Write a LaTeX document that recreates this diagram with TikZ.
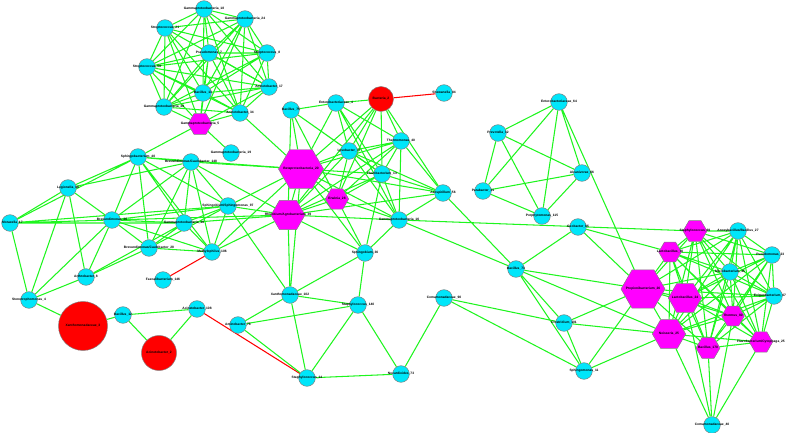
\documentclass[tikz,border=0pt]{standalone}
\usepackage{fontspec}
\setmainfont{Liberation Sans}
\usetikzlibrary{shapes.geometric,backgrounds}
\definecolor{nodecyan}{RGB}{0,230,250}
\definecolor{nodemag}{RGB}{255,0,255}
\definecolor{edgegreen}{RGB}{30,245,30}
\begin{document}
\begin{tikzpicture}[x=0.03cm,y=-0.03cm,
  cy/.style={circle,draw=gray,fill=nodecyan,minimum size=0.5cm,inner sep=0pt},
  rd/.style={circle,draw=gray,fill=red,inner sep=0pt},
  hx/.style={regular polygon,regular polygon sides=6,draw=gray,fill=nodemag,inner sep=0pt},
  lbl/.style={font=\fontsize{2.8}{3}\selectfont\bfseries,text=black,inner sep=0pt},
  ed/.style={draw=edgegreen,line width=0.9pt},
  rl/.style={draw=red,line width=0.9pt}]
\useasboundingbox (0,0) rectangle (787,433);
% upper left group
\node[cy,label={[lbl]center:Gammaproteobacteria\_18}] (g18) at (204,9) {};
\node[cy,label={[lbl]center:Gammaproteobacteria\_24}] (g24) at (245,19) {};
\node[cy,label={[lbl]center:Streptococcus\_21}] (st21) at (165,28) {};
\node[cy,label={[lbl]center:Pseudomonas\_7}] (ps7) at (209,53) {};
\node[cy,label={[lbl]center:Streptococcus\_8}] (st8) at (267,53) {};
\node[cy,label={[lbl]center:Streptococcus\_58}] (st58) at (147,67) {};
\node[cy,label={[lbl]center:Acinetobacter\_17}] (ac17) at (269,87) {};
\node[cy,label={[lbl]center:Bacillus\_13}] (ba13) at (203,93) {};
\node[cy,label={[lbl]center:Gammaproteobacteria\_38}] (g38) at (164,107) {};
\node[cy,label={[lbl]center:Acinetobacter\_34}] (ac34) at (240,113) {};
\node[hx,minimum size=0.72cm,label={[lbl]center:Gammaproteobacteria\_5}] (g5) at (200,124) {};
% left group
\node[cy,label={[lbl]center:Gammaproteobacteria\_19}] (g19) at (231,153) {};
\node[cy,label={[lbl]center:Sphingobacterium\_40}] (sb40) at (138,157) {};
\node[cy,label={[lbl]center:Brevundimonas/Caulobacter\_148}] (bc148) at (191,162) {};
\node[cy,label={[lbl]center:Legionella\_48}] (lg48) at (68,188) {};
\node[cy,label={[lbl]center:Sphingobium/Sphingomonas\_97}] (sm97) at (228,206) {};
\node[cy,label={[lbl,xshift=2pt]center:Moraxella\_17}] (mx17) at (10,223) {};
\node[cy,label={[lbl]center:Brevundimonas\_36}] (bv36) at (112,220) {};
\node[cy,label={[lbl]center:Gammaproteobacteria\_10}] (g10) at (184,223) {};
\node[cy,label={[lbl]center:Brevundimonas/Caulobacter\_28}] (bc28) at (149,248) {};
\node[cy,label={[lbl]center:Methylophilus\_106}] (mt106) at (212,252) {};
\node[cy,label={[lbl]center:Arthrobacter\_8}] (ar8) at (86,277) {};
\node[cy,label={[lbl]center:Faecalibacterium\_146}] (fb146) at (163,280) {};
\node[cy,label={[lbl]center:Stenotrophomonas\_4}] (sn4) at (29,300) {};
\node[rd,minimum size=1.47cm,label={[lbl]center:Xanthomonadaceae\_3}] (xa3) at (83,326) {};
\node[cy,label={[lbl]center:Bacillus\_12}] (ba12) at (123,315) {};
\node[rd,minimum size=1.05cm,label={[lbl]center:Acinetobacter\_2}] (ac2) at (159,353) {};
\node[cy,label={[lbl]center:Acinetobacter\_108}] (ac108) at (197,309) {};
\node[cy,label={[lbl]center:Aminobacter\_78}] (am78) at (238,325) {};
% middle group
\node[cy,label={[lbl]center:Bacillus\_75}] (ba75) at (291,110) {};
\node[cy,label={[lbl]center:Enterobacteriaceae\_4}] (en4) at (336,103) {};
\node[rd,minimum size=0.75cm,label={[lbl]center:Bacteria\_2}] (bt2) at (381,99) {};
\node[cy,label={[lbl]center:Shewanella\_84}] (sw84) at (444,93) {};
\node[cy,label={[lbl]center:Lysobacter\_77}] (ly77) at (349,151) {};
\node[cy,label={[lbl]center:Thermomonas\_40}] (th40) at (401,141) {};
\node[cy,label={[lbl]center:Flavobacterium\_13}] (fl13) at (382,174) {};
\node[hx,minimum size=1.35cm,label={[lbl]center:Betaproteobacteria\_20}] (be20) at (301,169) {};
\node[hx,minimum size=1.02cm,label={[lbl]center:Rhizobium/Agrobacterium\_39}] (rh39) at (288,215) {};
\node[hx,minimum size=0.7cm,label={[lbl]center:Erwinia\_28}] (er28) at (337,199) {};
\node[cy,label={[lbl]center:Azospirillum\_56}] (az56) at (443,193) {};
\node[cy,label={[lbl]center:Gammaproteobacteria\_16}] (g16) at (399,220) {};
\node[cy,label={[lbl]center:Sphingobium\_36}] (sp36) at (365,253) {};
% lower middle group
\node[cy,label={[lbl]center:Xanthomonadaceae\_102}] (xa102) at (290,295) {};
\node[cy,label={[lbl]center:Staphylococcus\_140}] (sa140) at (358,305) {};
\node[cy,label={[lbl]center:Staphylococcus\_14}] (sa14) at (307,378) {};
\node[cy,label={[lbl]center:Nocardioides\_73}] (nc73) at (401,374) {};
\node[cy,label={[lbl]center:Comamonadaceae\_90}] (cm90) at (444,298) {};
% right middle group
\node[cy,label={[lbl]center:Enterobacteriaceae\_64}] (en64) at (559,102) {};
\node[cy,label={[lbl]center:Prevotella\_32}] (pv32) at (498,133) {};
\node[cy,label={[lbl]center:Alcanivorax\_66}] (al66) at (582,173) {};
\node[cy,label={[lbl]center:Parabacter\_31}] (pb31) at (483,191) {};
\node[cy,label={[lbl]center:Porphyromonas\_115}] (pp115) at (542,216) {};
\node[cy,label={[lbl]center:Geobacter\_85}] (ge85) at (578,227) {};
\node[cy,label={[lbl]center:Bacillus\_73}] (ba73) at (516,269) {};
\node[cy,label={[lbl]center:Clostridium\_101}] (cl101) at (564,323) {};
\node[cy,label={[lbl]center:Sphingomonas\_11}] (sm11) at (584,371) {};
\node[hx,minimum size=1.32cm,label={[lbl]center:Propionibacterium\_26}] (pr26) at (643,289) {};
% right group
\node[hx,minimum size=0.72cm,label={[lbl]center:Staphylococcus\_69}] (sa69) at (695,231) {};
\node[cy,label={[lbl]center:Anoxybacillus/Bacillus\_27}] (an27) at (738,231) {};
\node[hx,minimum size=0.68cm,label={[lbl]center:Lactobacillus\_76}] (lb76) at (670,252) {};
\node[cy,label={[lbl,xshift=-1.5pt]center:Pseudomonas\_23}] (ps23) at (772,255) {};
\node[cy,label={[lbl]center:Microbacterium\_45}] (mb45) at (730,272) {};
\node[hx,minimum size=1.0cm,label={[lbl]center:Lactobacillus\_24}] (lb24) at (685,298) {};
\node[cy,label={[lbl,xshift=-3.5pt]center:Exiguobacterium\_67}] (ex67) at (774,296) {};
\node[hx,minimum size=0.68cm,label={[lbl]center:Thermus\_80}] (tm80) at (733,316) {};
\node[hx,minimum size=1.0cm,label={[lbl]center:Neisseria\_25}] (ne25) at (669,334) {};
\node[hx,minimum size=0.7cm,label={[lbl]center:Flavobacterium/Cytophaga\_25}] (fc25) at (761,342) {};
\node[hx,minimum size=0.72cm,label={[lbl]center:Bacillus\_170}] (ba170) at (708,348) {};
\node[cy,label={[lbl]center:Comamonadaceae\_40}] (cm40) at (712,425) {};
\begin{scope}[on background layer]
% upper left group
\draw[ed] (g18)--(g24) (g18)--(st21) (g18)--(ps7) (g18)--(st8) (g18)--(st58) (g18)--(ac17) (g18)--(ba13) (g18)--(g38) (g18)--(ac34);
\draw[ed] (g24)--(st21) (g24)--(ps7) (g24)--(st8) (g24)--(st58) (g24)--(ac17) (g24)--(ba13) (g24)--(g38) (g24)--(ac34) (g24)--(g5);
\draw[ed] (st21)--(ps7) (st21)--(st8) (st21)--(st58) (st21)--(ac17) (st21)--(ba13) (st21)--(g38) (st21)--(ac34) (st21)--(g5);
\draw[ed] (ps7)--(st8) (ps7)--(st58) (ps7)--(ac17) (ps7)--(ba13) (ps7)--(g38) (ps7)--(ac34) (ps7)--(g5);
\draw[ed] (st8)--(st58) (st8)--(ac17) (st8)--(ba13) (st8)--(g38) (st8)--(ac34);
\draw[ed] (st58)--(ac17) (st58)--(ba13) (st58)--(g38) (st58)--(ac34) (st58)--(g5);
\draw[ed] (ac17)--(ba13) (ac17)--(g38) (ac17)--(ac34) (ac17)--(g5);
\draw[ed] (ba13)--(g38) (ba13)--(ac34) (ba13)--(g5);
\draw[ed] (g38)--(ac34) (g38)--(g5) (ac34)--(g5);
\draw[ed] (g5)--(sb40) (g5)--(g19) (ac34)--(be20);
% left group
\draw[ed] (sb40)--(lg48) (sb40)--(mx17) (sb40)--(bc148) (sb40)--(bv36) (sb40)--(g10) (sb40)--(bc28) (sb40)--(mt106) (sb40)--(sm97) (sb40)--(be20);
\draw[ed] (bc148)--(lg48) (bc148)--(bv36) (bc148)--(bc28) (bc148)--(mt106) (bc148)--(sm97) (bc148)--(be20) (bc148)--(rh39) (bc148)--(g10);
\draw[ed] (lg48)--(mx17) (lg48)--(bv36) (lg48)--(ar8) (lg48)--(sn4);
\draw[ed] (mx17)--(bv36) (mx17)--(g10) (mx17)--(sn4) (mx17)--(sm97);
\draw[ed] (bv36)--(g10) (bv36)--(bc28) (bv36)--(mt106) (bv36)--(ar8) (bv36)--(sm97) (bv36)--(rh39) (bv36)--(sn4);
\draw[ed] (g10)--(bc28) (g10)--(mt106) (g10)--(rh39) (g10)--(ar8) (g10)--(sm97);
\draw[ed] (sm97)--(bc28) (sm97)--(mt106) (sm97)--(rh39) (sm97)--(be20) (sm97)--(xa102);
\draw[ed] (mt106)--(bc28) (mt106)--(rh39) (mt106)--(be20);
\draw[ed] (sn4)--(ar8) (sn4)--(xa3) (ar8)--(bc28);
\draw[ed] (xa3)--(ba12) (ba12)--(ac2) (ba12)--(ac108) (ac108)--(ac2);
\draw[rl] (mt106)--(fb146);
\draw[rl] (ac108)--(sa14);
% lower middle group
\draw[ed] (am78)--(xa102) (am78)--(sa140) (am78)--(sa14);
\draw[ed] (xa102)--(sa140) (xa102)--(sp36) (xa102)--(sa14) (xa102)--(rh39) (xa102)--(be20);
\draw[ed] (sa140)--(sp36) (sa140)--(sa14) (sa140)--(nc73) (sa14)--(nc73);
\draw[ed] (cm90)--(nc73) (cm90)--(cl101) (cm90)--(sm11);
% middle group
\draw[ed] (ba75)--(en4) (ba75)--(be20) (ba75)--(rh39) (ba75)--(fl13) (ba75)--(er28) (ba75)--(ly77);
\draw[ed] (en4)--(bt2) (en4)--(ly77) (en4)--(fl13) (en4)--(th40) (en4)--(g16) (en4)--(be20);
\draw[ed] (bt2)--(be20) (bt2)--(ly77) (bt2)--(fl13) (bt2)--(rh39) (bt2)--(th40) (bt2)--(er28) (bt2)--(az56);
\draw[rl] (bt2)--(sw84);
\draw[ed] (th40)--(ly77) (th40)--(be20) (th40)--(fl13) (th40)--(az56) (th40)--(g16) (th40)--(rh39) (th40)--(er28);
\draw[ed] (ly77)--(be20) (ly77)--(fl13) (ly77)--(rh39) (ly77)--(az56) (ly77)--(g16) (ly77)--(er28);
\draw[ed] (fl13)--(be20) (fl13)--(rh39) (fl13)--(er28) (fl13)--(az56) (fl13)--(g16) (fl13)--(sp36);
\draw[ed] (be20)--(rh39) (be20)--(er28) (be20)--(az56) (be20)--(g16) (be20)--(sp36);
\draw[ed] (rh39)--(er28) (rh39)--(g16) (rh39)--(sp36) (rh39)--(az56);
\draw[ed] (er28)--(g16) (er28)--(sp36);
\draw[ed] (g16)--(az56) (g16)--(sp36) (g16)--(ba73) (g16)--(sa69) (az56)--(ba73);
% right middle group
\draw[ed] (en64)--(pv32) (en64)--(pb31) (en64)--(pp115) (en64)--(al66) (en64)--(pr26);
\draw[ed] (pv32)--(pb31) (pv32)--(pp115) (pv32)--(al66) (pb31)--(al66) (pb31)--(pp115) (pp115)--(al66);
\draw[ed] (ge85)--(pr26) (ge85)--(lb76) (ge85)--(ba73);
\draw[ed] (ba73)--(pr26) (ba73)--(cl101) (ba73)--(sm11) (ba73)--(ne25);
\draw[ed] (cl101)--(pr26) (cl101)--(sm11) (cl101)--(ne25);
\draw[ed] (sm11)--(pr26) (sm11)--(ne25);
% right group
\draw[ed] (pr26)--(sa69) (pr26)--(lb76) (pr26)--(lb24) (pr26)--(ne25) (pr26)--(mb45) (pr26)--(an27) (pr26)--(tm80) (pr26)--(ba170) (pr26)--(ex67);
\draw[ed] (sa69)--(an27) (sa69)--(lb76) (sa69)--(ps23) (sa69)--(mb45) (sa69)--(lb24) (sa69)--(ex67) (sa69)--(tm80) (sa69)--(ne25) (sa69)--(fc25) (sa69)--(ba170);
\draw[ed] (an27)--(lb76) (an27)--(ps23) (an27)--(mb45) (an27)--(lb24) (an27)--(ex67) (an27)--(tm80) (an27)--(ne25) (an27)--(fc25) (an27)--(ba170);
\draw[ed] (lb76)--(ps23) (lb76)--(mb45) (lb76)--(lb24) (lb76)--(ex67) (lb76)--(tm80) (lb76)--(ne25) (lb76)--(fc25) (lb76)--(ba170);
\draw[ed] (ps23)--(mb45) (ps23)--(lb24) (ps23)--(ex67) (ps23)--(tm80) (ps23)--(ne25) (ps23)--(fc25) (ps23)--(ba170);
\draw[ed] (mb45)--(lb24) (mb45)--(ex67) (mb45)--(tm80) (mb45)--(ne25) (mb45)--(fc25) (mb45)--(ba170);
\draw[ed] (lb24)--(ex67) (lb24)--(tm80) (lb24)--(ne25) (lb24)--(fc25) (lb24)--(ba170);
\draw[ed] (ex67)--(tm80) (ex67)--(ne25) (ex67)--(fc25) (ex67)--(ba170);
\draw[ed] (tm80)--(ne25) (tm80)--(fc25) (tm80)--(ba170) (ne25)--(fc25) (ne25)--(ba170) (fc25)--(ba170);
\draw[ed] (cm40)--(ne25) (cm40)--(ba170) (cm40)--(lb24) (cm40)--(tm80) (cm40)--(fc25);
\end{scope}
\end{tikzpicture}
\end{document}
